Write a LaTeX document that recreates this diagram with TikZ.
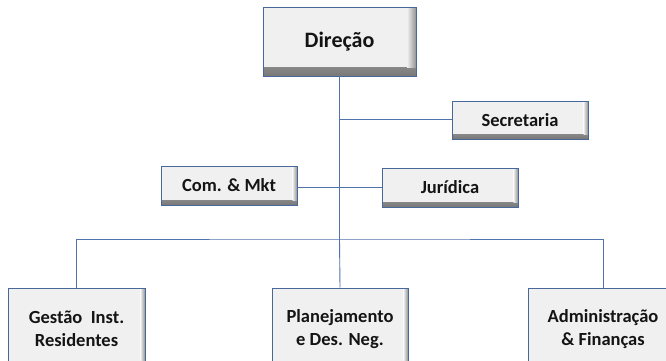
\documentclass[tikz,border=0pt]{standalone}
\usepackage{fontspec}
\setmainfont{Carlito}
\definecolor{linecol}{RGB}{79,116,172}
\definecolor{boxborder}{RGB}{72,104,156}
\definecolor{boxfill}{RGB}{240,240,240}
\definecolor{shadowcol}{RGB}{120,120,120}
\definecolor{txt}{RGB}{20,20,20}
\tikzset{
  orgbox/.style={draw=boxborder, line width=0.9pt, fill=boxfill, text=txt,
    align=center, inner sep=0pt, font=\fontsize{18.5}{23}\selectfont\bfseries,
    path picture={
      \shade[top color=boxfill, bottom color=shadowcol]
        ([yshift=#1]path picture bounding box.south west) rectangle (path picture bounding box.south east);
      \shade[left color=boxfill, right color=shadowcol!80]
        ([xshift=-#1]path picture bounding box.north east) rectangle ([yshift=#1]path picture bounding box.south east);
    }},
  orgbox/.default=4.5pt,
  conn/.style={draw=linecol, line width=0.9pt}
}
\begin{document}
\begin{tikzpicture}[x=1pt,y=-1pt]
\useasboundingbox (0,0) rectangle (666,360);
\clip (0,0) rectangle (666,360);
\fill[white] (0,0) rectangle (666,360);
% connectors first
\coordinate (bus) at (339.5,239);
\coordinate (sectap) at (339.5,119);
\node[orgbox=9pt, minimum width=153pt, minimum height=69pt, font=\fontsize{22}{26}\selectfont\bfseries] (dir) at (339.5,41.5) {Direção};
\node[orgbox, minimum width=136pt, minimum height=38pt] (sec) at (520,120) {Secretaria};
\node[orgbox, minimum width=136pt, minimum height=39pt] (com) at (229,185.5) {Com. \& Mkt};
\node[orgbox, minimum width=136pt, minimum height=39pt] (jur) at (450,187.5) {Jurídica};
\node[orgbox, minimum width=137pt, minimum height=82pt] (ges) at (76.5,329) {Gestão~~Inst.\\Residentes};
\node[orgbox, minimum width=136pt, minimum height=82pt] (pla) at (340,329) {Planejamento\\e Des. Neg.};
\node[orgbox, minimum width=150pt, minimum height=82pt] (adm) at (603,329) {Administração\\\& Finanças};
\begin{scope}[on background layer/.try]
\end{scope}
\draw[conn] (dir.south) -- (bus);
\draw[conn] (bus) -- (pla.north);
\draw[conn] (sectap) -- (sectap -| sec.west);
\draw[conn] (jur.west) -- (jur.west -| com.east);
\draw[conn] (ges.north) |- (bus) -| (adm.north);
\end{tikzpicture}
\end{document}
